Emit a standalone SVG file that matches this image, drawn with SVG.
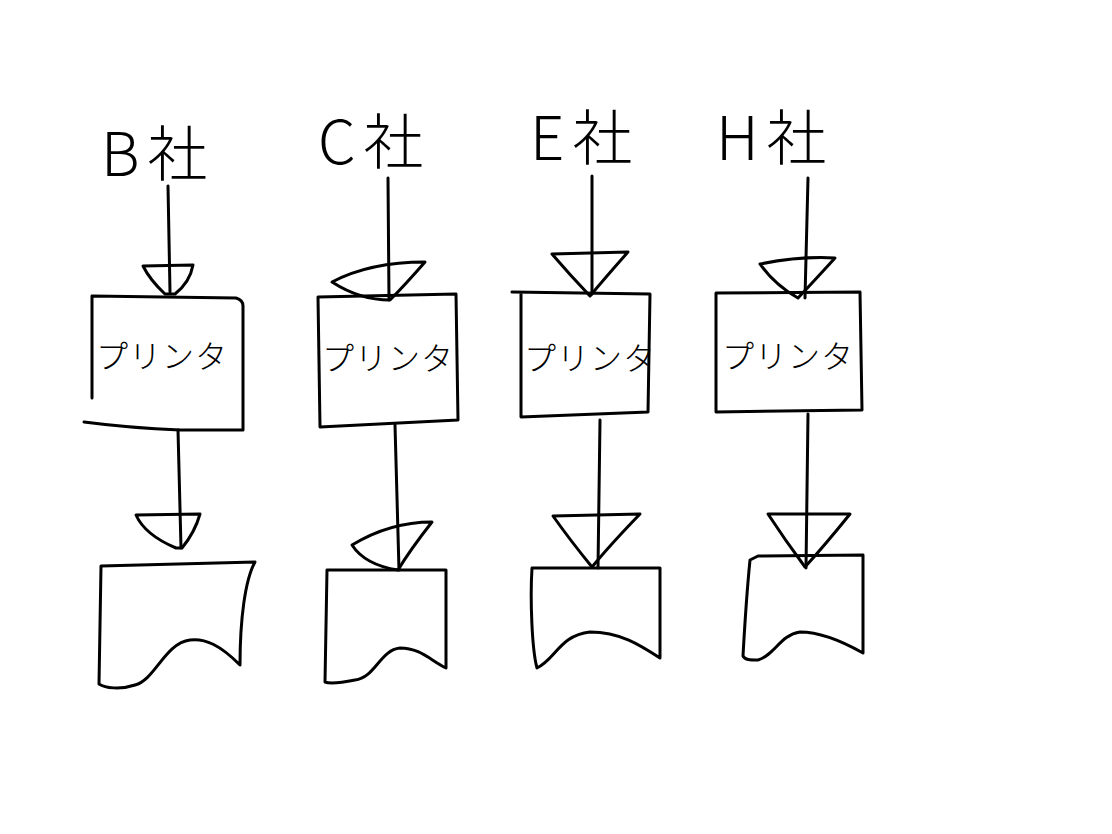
<svg xmlns="http://www.w3.org/2000/svg" width="1112" height="834" viewBox="0 0 1112 834">
<style>
.s{fill:#fff;stroke:#000;stroke-width:3;stroke-linejoin:round;stroke-linecap:round}
.a{fill:none;stroke:#000;stroke-width:3;stroke-linejoin:round;stroke-linecap:round}
.c{fill:none;stroke:#000;stroke-width:3;stroke-linecap:round;stroke-linejoin:round}
.lbl{font-family:"Noto Sans CJK JP","Noto Sans",sans-serif;font-weight:300;font-size:60px;fill:#000;letter-spacing:8px}
.txt{font-family:"Noto Sans CJK JP","Noto Sans",sans-serif;font-weight:300;font-size:32px;fill:#000;letter-spacing:1px}
</style>
<rect width="1112" height="834" fill="#fff"/>
<g id="label-B"><text class="lbl" x="101" y="176">B社</text></g>
<g id="label-C"><text class="lbl" x="318" y="164">C社</text></g>
<g id="label-E"><text class="lbl" x="530" y="160">E社</text></g>
<g id="label-H"><text class="lbl" x="716" y="160">H社</text></g>

<g id="printer-B">
<path class="s" d="M92,296 L236,298 Q243,300 243,306 L243,430 L180,430 Q130,428 84,422 M92,296 L92,398"/>
<text class="txt" x="96" y="368">プリンタ</text>
</g>
<g id="printer-C">
<path class="s" d="M318,297 L456,294 L458,420 L320,427 Z"/>
<text class="txt" x="322" y="370">プリンタ</text>
</g>
<g id="printer-E">
<path class="s" d="M512,292 L650,294 L648,412 L521,417 L521,294"/>
<text class="txt" x="524" y="370">プリンタ</text>
</g>
<g id="printer-H">
<path class="s" d="M716,293 L860,292 L862,410 L716,412 Z"/>
<text class="txt" x="722" y="368">プリンタ</text>
</g>

<g id="document-B">
<path class="s" d="M101,566 L255,562 C245,580 240,620 240,665 C220,645 205,638 190,640 C165,643 155,680 135,685 C120,690 105,688 99,684 Z"/>
</g>
<g id="document-C">
<path class="s" d="M327,570 L446,570 L446,668 C430,660 420,648 400,648 C380,650 375,678 355,680 C340,683 330,684 325,682 Z"/>
</g>
<g id="document-E">
<path class="s" d="M532,568 L660,568 L660,658 C640,645 620,632 590,632 C560,635 555,660 537,668 C532,650 530,600 532,568 Z"/>
</g>
<g id="document-H">
<path class="s" d="M758,556 L863,555 L863,653 C840,640 820,632 800,632 C780,635 775,655 758,660 C750,660 745,660 743,656 C745,620 748,580 750,560 Z"/>
</g>

<g id="connectors">
<path class="c" d="M168,186 L170,292"/>
<path class="a" d="M143,266 L193,265 Q190,282 175,294 L165,294 Q150,280 143,266 Z"/>
<path class="c" d="M178,430 L181,548"/>
<path class="a" d="M136,515 L200,514 Q195,532 182,548 L176,548 Q145,535 136,515 Z"/>

<path class="c" d="M388,178 L389,300"/>
<path class="a" d="M332,282 Q370,262 425,262 Q405,285 390,300 Q360,300 332,282 Z"/>
<path class="c" d="M395,425 L399,570"/>
<path class="a" d="M352,545 Q390,522 432,522 Q410,550 398,570 Q365,565 352,545 Z"/>

<path class="c" d="M592,176 L592,294"/>
<path class="a" d="M552,254 L628,252 Q605,278 590,296 Q570,275 552,254 Z"/>
<path class="c" d="M600,420 L598,568"/>
<path class="a" d="M553,516 L640,514 Q610,545 592,567 Q570,540 553,516 Z"/>

<path class="c" d="M808,178 L805,298"/>
<path class="a" d="M760,264 Q800,256 835,258 Q815,280 798,298 Q775,285 760,264 Z"/>
<path class="c" d="M808,414 L806,568"/>
<path class="a" d="M768,514 L850,514 Q825,545 805,567 Q785,540 768,514 Z"/>
</g>
</svg>
